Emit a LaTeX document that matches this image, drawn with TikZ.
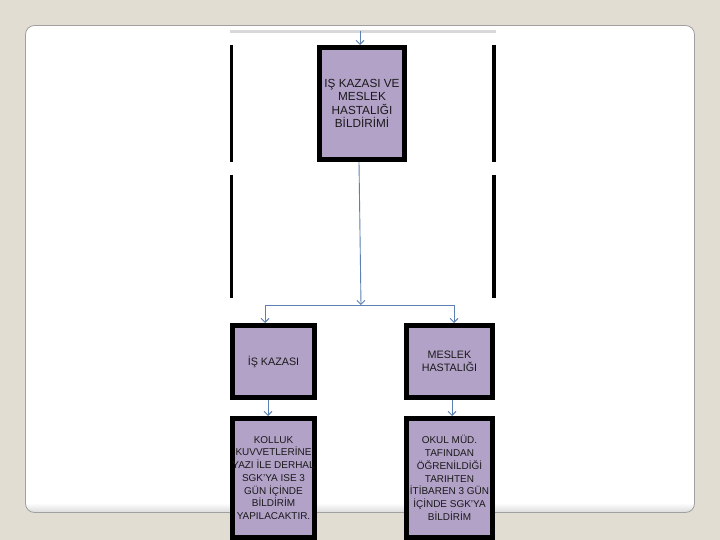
\documentclass[tikz,border=0pt]{standalone}
\usepackage{fontspec}
\setmainfont{Liberation Sans}
\usepackage{tikz}
\usetikzlibrary{arrows.meta}

\definecolor{pagebg}{RGB}{226,221,211}
\definecolor{cardline}{RGB}{160,160,160}
\definecolor{boxfill}{RGB}{178,162,200}
\definecolor{arrowblue}{RGB}{92,128,178}
\definecolor{topgray}{RGB}{216,216,216}

\begin{document}
\begin{tikzpicture}[x=1bp, y=-1bp,
  flowbox/.style={draw=black, line width=5bp, fill=boxfill, inner sep=0pt, align=center,
    font=\fontsize{10.8}{13.3}\selectfont, text=black!90},
  bigtext/.style={font=\fontsize{11.8}{13.5}\selectfont},
  smalltext/.style={font=\fontsize{10}{12.8}\selectfont},
  flowline/.style={draw=arrowblue, line width=0.9bp},
  flowarrow/.style={flowline, -{Straight Barb[length=4bp,width=8bp]}}]

    % Draw the page and the white card
    \fill[pagebg] (0,0) rectangle (720,540);
    \useasboundingbox (0,0) rectangle (720,540);
    \fill[white, rounded corners=9bp] (25.5,25.5) rectangle (694.5,512.5);
    \begin{scope}
        \clip[rounded corners=9bp] (25.5,25.5) rectangle (694.5,512.5);
        \shade[top color=white, bottom color=black!15] (25,503) rectangle (695,513);
    \end{scope}
    \draw[cardline, line width=0.8bp, rounded corners=9bp] (25.5,25.5) rectangle (694.5,512.5);

    % Draw the gray line and the black bars
    \draw[topgray, line width=3bp] (230,32) -- (496,32);
    \foreach \ya/\yb in {45/162, 175/298} {
        \draw[line width=3bp] (231.5,\ya) -- (231.5,\yb);
        \draw[line width=4bp] (494,\ya) -- (494,\yb);
    }

    % Draw the boxes
    \node[flowbox, bigtext, minimum width=85bp, minimum height=112bp] (bildirim) at (362,103.5)
        {IŞ KAZASI VE\\MESLEK\\HASTALIĞI\\BİLDİRİMİ};
    \node[flowbox, minimum width=82bp, minimum height=72bp] (iskazasi) at (273.5,361.5)
        {İŞ KAZASI};
    \node[flowbox, minimum width=86bp, minimum height=72bp] (meslek) at (449.5,361.5)
        {MESLEK\\HASTALIĞI};
    \node[flowbox, smalltext, minimum width=82bp, minimum height=119bp] (kolluk) at (273.5,478)
        {KOLLUK\\KUVVETLERİNE\\YAZI İLE DERHAL\\SGK'YA ISE 3\\GÜN İÇİNDE\\BİLDİRİM\\YAPILACAKTIR.};
    \node[flowbox, smalltext, minimum width=86bp, minimum height=119bp] (okul) at (449.5,478)
        {OKUL MÜD.\\TAFINDAN\\ÖĞRENİLDİĞİ\\TARIHTEN\\İTİBAREN 3 GÜN\\İÇİNDE SGK'YA\\BİLDİRİM};

    % Draw the arrows
    \coordinate (topin) at (360,31);
    \coordinate (split) at (361,305);
    \coordinate (splitl) at (265,305);
    \coordinate (splitr) at (454,305);
    \draw[flowarrow] (topin) -- (topin |- bildirim.north);
    \draw[flowarrow] ([xshift=-3bp]bildirim.south) -- (split);
    \draw[flowline] (splitl) -- (splitr);
    \draw[flowarrow] (splitl) -- (splitl |- iskazasi.north);
    \draw[flowarrow] (splitr) -- (splitr |- meslek.north);
    \draw[flowarrow] ([xshift=-5.5bp]iskazasi.south) -- ([xshift=-5.5bp]kolluk.north);
    \draw[flowarrow] ([xshift=2.5bp]meslek.south) -- ([xshift=2.5bp]okul.north);
\end{tikzpicture}
\end{document}
